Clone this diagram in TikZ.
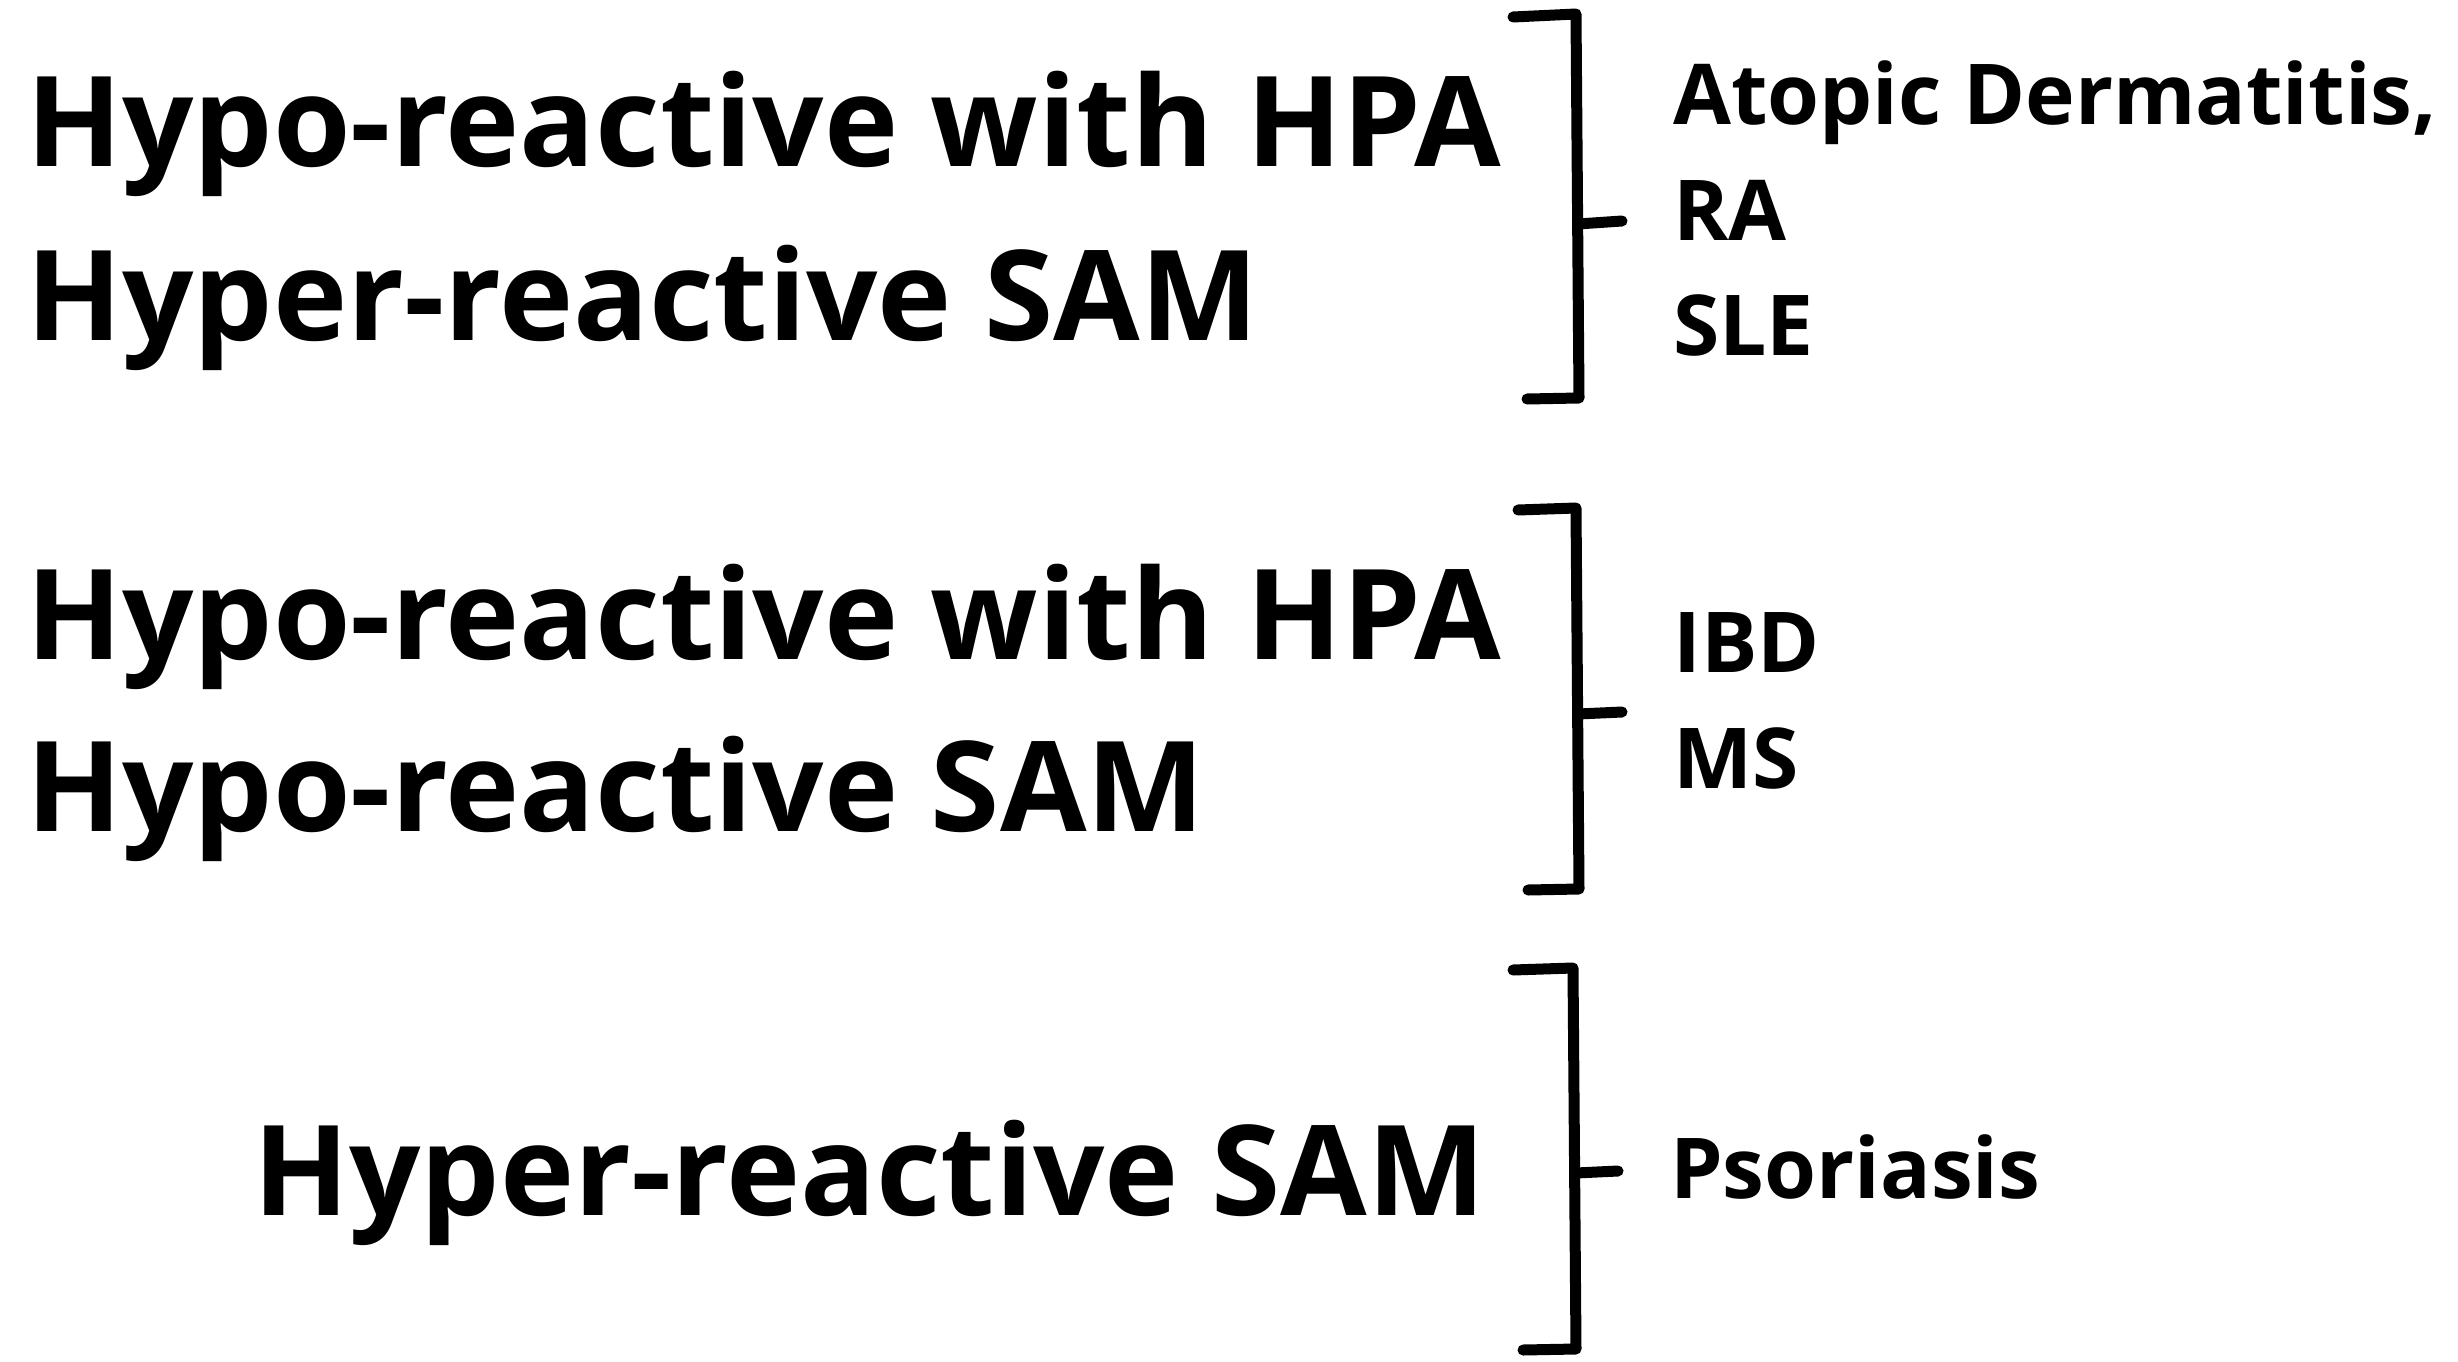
\documentclass[tikz,border=0pt]{standalone}
\usepackage{fontspec}
\setmainfont{Open Sans}
\begin{document}
\begin{tikzpicture}[x=1pt,y=-1pt,
  big/.style={anchor=base west,inner sep=0pt,font=\bfseries\fontsize{125.5}{150}\selectfont},
  small/.style={anchor=base west,inner sep=0pt,font=\bfseries\fontsize{84}{100}\selectfont},
  brk/.style={line width=11pt,line cap=round,line join=round}]
\useasboundingbox (0,0) rectangle (2458,1362);
% left labels
\node[big] (a1) at (26,167) {Hypo-reactive with HPA};
\node[big] (a2) at (26,340) {Hyper-reactive SAM};
\node[big] (b1) at (26,659) {Hypo-reactive with HPA};
\node[big] (b2) at (26,831) {Hypo-reactive SAM};
\node[big] (c1) at (253,1215) {Hyper-reactive SAM};
% right labels
\node[small] (r1) at (1673,125) {Atopic Dermatitis,};
\node[small] (r2) at (1673,240) {RA};
\node[small] (r3) at (1673,355) {SLE};
\node[small] (s1) at (1673,672) {IBD};
\node[small] (s2) at (1673,788) {MS};
\node[small] (t1) at (1670,1198) {Psoriasis};
% brackets
\coordinate (k1a) at (1513,17); \coordinate (k1b) at (1576,14);
\coordinate (k1c) at (1579,398); \coordinate (k1d) at (1527,399);
\coordinate (k1m) at (1578,224); \coordinate (k1t) at (1622,221);
\draw[brk] (k1a) -- (k1b) -- (k1c) -- (k1d);
\draw[brk] (k1m) -- (k1t);
\coordinate (k2a) at (1518,510); \coordinate (k2b) at (1576,508);
\coordinate (k2c) at (1579,889); \coordinate (k2d) at (1528,890);
\coordinate (k2m) at (1578,714); \coordinate (k2t) at (1622,712);
\draw[brk] (k2a) -- (k2b) -- (k2c) -- (k2d);
\draw[brk] (k2m) -- (k2t);
\coordinate (k3a) at (1513,970); \coordinate (k3b) at (1573,968);
\coordinate (k3c) at (1576,1349); \coordinate (k3d) at (1523,1350);
\coordinate (k3m) at (1576,1173); \coordinate (k3t) at (1618,1171);
\draw[brk] (k3a) -- (k3b) -- (k3c) -- (k3d);
\draw[brk] (k3m) -- (k3t);
\end{tikzpicture}
\end{document}
